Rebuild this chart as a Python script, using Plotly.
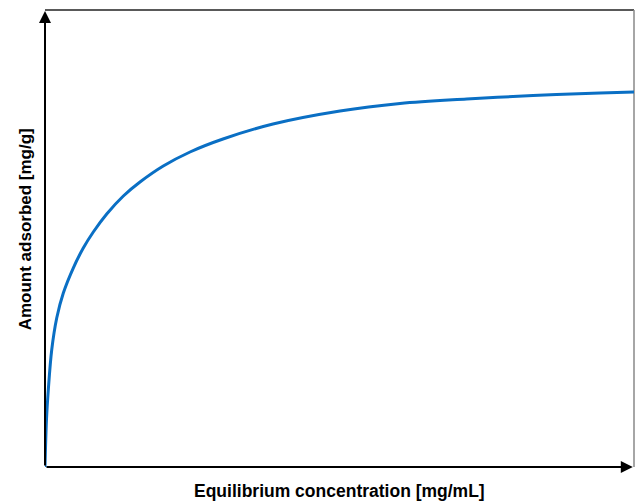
import plotly.graph_objects as go

# Equilibrium concentration (arbitrary units)
conc = [0.0, 0.025, 0.056, 0.114, 0.199, 0.311, 0.480, 0.650, 0.820, 1.048,
        1.330, 1.613, 2.008, 2.462, 3.022, 3.871, 5.008, 6.027, 7.160, 8.285,
        9.423, 10.0]
# Amount adsorbed (arbitrary units)
adsorbed = [0.0, 1.028, 1.685, 2.560, 3.260, 3.807, 4.354, 4.792, 5.142, 5.536,
            5.930, 6.236, 6.586, 6.893, 7.177, 7.505, 7.790, 7.954, 8.053, 8.129,
            8.184, 8.206]

x_title = "Equilibrium concentration [mg/mL]"
y_title = "Amount adsorbed [mg/g]"

fig = go.Figure()
fig.add_trace(go.Scatter(
    x=conc, y=adsorbed, mode="lines",
    line=dict(color="#0A6FC4", width=3, shape="spline", smoothing=1.0),
    hoverinfo="skip", showlegend=False, cliponaxis=False,
))

axis_common = dict(showgrid=False, zeroline=False, showticklabels=False,
                   ticks="", showline=False, fixedrange=True)

fig.update_layout(
    width=643, height=502,
    margin=dict(l=45, r=9, t=10, b=35),
    paper_bgcolor="white", plot_bgcolor="white",
    xaxis=dict(range=[0, 10], **axis_common),
    yaxis=dict(range=[0, 10], **axis_common),
    showlegend=False,
    font=dict(family="Liberation Sans, Arial, sans-serif", color="black"),
)

# top and right frame lines
fig.add_shape(type="line", xref="paper", yref="paper", x0=0, y0=1, x1=1, y1=1,
              line=dict(color="#222222", width=1.5), layer="below")
fig.add_shape(type="line", xref="paper", yref="paper", x0=1, y0=0, x1=1, y1=1,
              line=dict(color="#888888", width=1.5), layer="below")

# arrowed axes
fig.add_annotation(x=9.98, y=0, ax=0, ay=0, xref="x", yref="y", axref="x", ayref="y",
                   showarrow=True, arrowhead=2, arrowsize=1.2, arrowwidth=2,
                   arrowcolor="black", text="")
fig.add_annotation(x=0, y=9.98, ax=0, ay=0, xref="x", yref="y", axref="x", ayref="y",
                   showarrow=True, arrowhead=2, arrowsize=1.2, arrowwidth=2,
                   arrowcolor="black", text="")

# axis titles
fig.add_annotation(x=0.5, y=-0.0525, xref="paper", yref="paper", xanchor="center",
                   yanchor="middle", showarrow=False,
                   text="<b>" + x_title + "</b>", font=dict(size=17.5))
fig.add_annotation(x=-0.034, y=0.52, xref="paper", yref="paper", xanchor="center",
                   yanchor="middle", showarrow=False, textangle=-90,
                   text="<b>" + y_title + "</b>", font=dict(size=17))

fig.write_html("out.html")
